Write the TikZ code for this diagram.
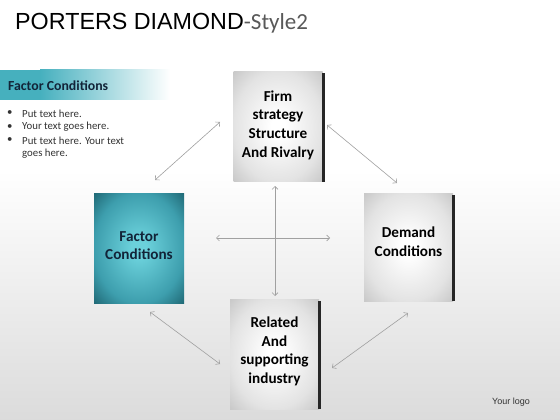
\documentclass[tikz,border=0pt]{standalone}
\usepackage{fontspec}
\setmainfont{Carlito}
\newfontfamily\arialf{Liberation Sans}
\usetikzlibrary{arrows.meta}
\definecolor{tealA}{RGB}{70,176,190}
\definecolor{navy}{RGB}{18,36,56}
\definecolor{arrowgray}{RGB}{160,160,160}
\pgfdeclareradialshading{grayrad}{\pgfpointorigin}{%
  color(0bp)=(white); color(4bp)=(white); color(25bp)=(black!11); color(35bp)=(black!21); color(50bp)=(black!28)}
\pgfdeclareradialshading{tealrad}{\pgfpointorigin}{%
  rgb(0bp)=(0.42,0.82,0.86); rgb(4bp)=(0.42,0.82,0.86); rgb(25bp)=(0.24,0.62,0.68); rgb(35bp)=(0.13,0.42,0.47); rgb(50bp)=(0.08,0.30,0.34)}
\tikzset{
  gbox/.style={minimum width=89pt, minimum height=110pt, inner sep=0pt, shading=grayrad},
  tbox/.style={minimum width=90pt, minimum height=110pt, inner sep=0pt, shading=tealrad},
  boxtext/.style={align=center, inner sep=0pt, font=\bfseries\fontsize{15.2}{18.7}\selectfont},
  edge/.style={line width=2.6pt, black!85},
  conn/.style={draw=arrowgray, line width=0.6pt, {Straight Barb[length=3pt,width=6pt]}-{Straight Barb[length=3pt,width=6pt]}},
  bullet/.style={anchor=west, inner sep=0pt, font=\fontsize{10.8}{12}\selectfont, text=black!80}
}
\begin{document}
\begin{tikzpicture}[x=1pt,y=-1pt]
\useasboundingbox (0,0) rectangle (560,420);
\fill[white] (0,0) rectangle (560,420);
\shade[top color=white, bottom color=black!14] (0,170) rectangle (560,420);
% header bar
\fill[tealA] (0,70) rectangle (40,100);
\shade[left color=tealA, right color=white] (40,70) rectangle (170,100);
\node[anchor=west, inner sep=0pt, text=navy, font=\bfseries\fontsize{13.8}{15}\selectfont] (hdr) at (8,85.5) {Factor Conditions};
% title
\node[anchor=base west, inner sep=0pt, font=\arialf\fontsize{23.3}{26}\selectfont] (title) at (15,30) {PORTERS DIAMOND{\color{black!65}\rmfamily\fontsize{23}{26}\selectfont-Style2}};
% bullets
\node[bullet] (b1d) at (7,113.5) {•};
\node[bullet] (b1) at (22,113.5) {Put text here.};
\node[bullet] (b2d) at (7,127) {•};
\node[bullet] (b2) at (22,127) {Your text goes here.};
\node[bullet] (b3d) at (7,140.5) {•};
\node[bullet] (b3) at (22,140.5) {Put text here. Your text};
\node[bullet] (b4) at (22,154) {goes here.};
% boxes
\node[gbox] (firm) at (278,126.5) {};
\draw[edge] ([xshift=0.5pt,yshift=-2pt]firm.north east) -- ([xshift=0.5pt]firm.south east);
\node[boxtext] (firmT) at (278,125) {Firm\\strategy\\Structure\\And Rivalry};
\node[tbox] (factor) at (139,248) {};
\node[boxtext, text=navy] (factorT) at (139,245.5) {Factor\\Conditions};
\node[gbox, minimum height=108pt] (demand) at (408.5,247) {};
\draw[edge] ([xshift=0.5pt,yshift=-2pt]demand.north east) -- ([xshift=0.5pt]demand.south east);
\node[boxtext] (demandT) at (408.5,241.5) {Demand\\Conditions};
\node[gbox] (related) at (274.5,354) {};
\draw[edge] ([xshift=0.5pt,yshift=-2pt]related.north east) -- ([xshift=0.5pt]related.south east);
\node[boxtext] (relatedT) at (274.5,351.5) {Related\\And\\supporting\\industry};
% connector end points
\coordinate (p1) at (155,180); \coordinate (q1) at (220,122);
\coordinate (p2) at (327,125); \coordinate (q2) at (397,183);
\coordinate (p3) at (216,238); \coordinate (q3) at (330,238);
\coordinate (p4) at (275,186); \coordinate (q4) at (275,296);
\coordinate (p5) at (150,312); \coordinate (q5) at (220,364);
\coordinate (p6) at (332,368); \coordinate (q6) at (408,313);
\draw[conn] (p1) -- (q1);
\draw[conn] (p2) -- (q2);
\draw[conn] (p3) -- (q3);
\draw[conn] (p4) -- (q4);
\draw[conn] (p5) -- (q5);
\draw[conn] (p6) -- (q6);
% logo
\node[inner sep=0pt, font=\arialf\fontsize{9}{10}\selectfont, text=black!80] (logo) at (511,402) {Your logo};
\end{tikzpicture}
\end{document}
